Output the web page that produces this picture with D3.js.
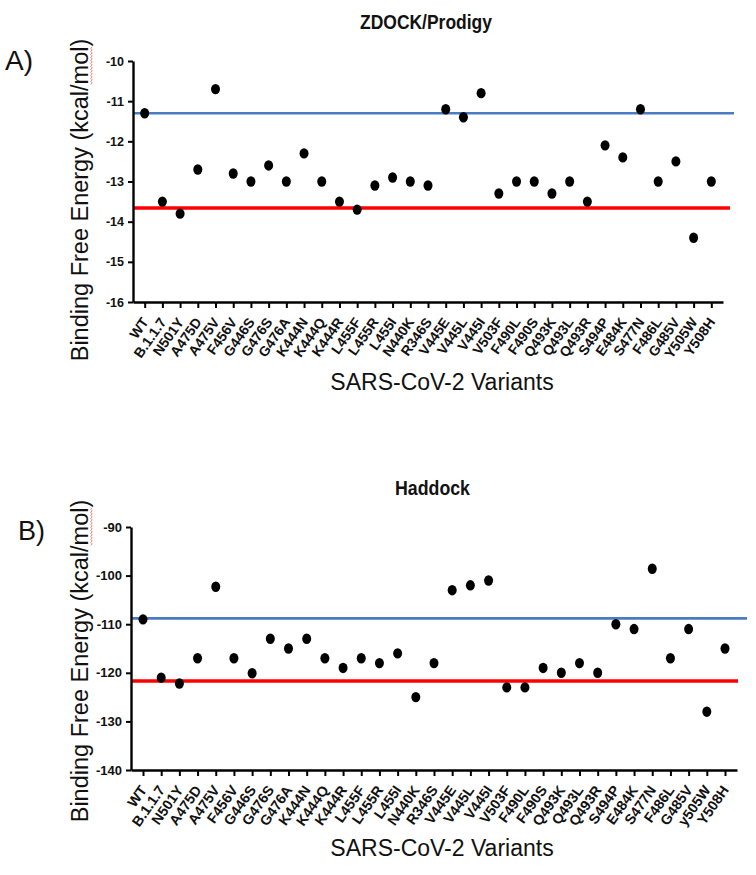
<!DOCTYPE html>
<html>
<head>
<meta charset="utf-8">
<script src="https://cdn.jsdelivr.net/npm/d3@7"></script>
<style>
  html, body { margin: 0; padding: 0; background: #fff; }
  svg { display: block; }
  text { font-family: "Liberation Sans", Arial, sans-serif; fill: #111; }
</style>
</head>
<body>
<svg id="chart" width="756" height="875"></svg>
<script>
// ---------------- DATA ----------------
const categoriesA = ["WT","B.1.1.7","N501Y","A475D","A475V","F456V","G446S","G476S","G476A","K444N","K444Q","K444R","L455F","L455R","L455I","N440K","R346S","V445E","V445L","V445I","V503F","F490L","F490S","Q493K","Q493L","Q493R","S494P","E484K","S477N","F486L","G485V","Y505W","Y508H"];
const categoriesB = ["WT","B.1.1.7","N501Y","A475D","A475V","F456V","G446S","G476S","G476A","K444N","K444Q","K444R","L455F","L455R","L455I","N440K","R346S","V445E","V445L","V445I","V503F","F490L","F490S","Q493K","Q493L","Q493R","S494P","E484K","S477N","F486L","G485V","y505W","Y508H"];

const zdockValues = [-11.3,-13.5,-13.8,-12.7,-10.7,-12.8,-13.0,-12.6,-13.0,-12.3,-13.0,-13.5,-13.7,-13.1,-12.9,-13.0,-13.1,-11.2,-11.4,-10.8,-13.3,-13.0,-13.0,-13.3,-13.0,-13.5,-12.1,-12.4,-11.2,-13.0,-12.5,-14.4,-13.0];
const haddockValues = [-109,-121,-122.2,-117,-102.3,-117,-120.1,-113,-115,-113,-117,-119,-117,-118,-116,-125,-118,-103,-102,-101,-123,-123,-119,-120,-118,-120,-110,-111,-98.6,-117,-111,-128,-115];

const yTicksA = [-16,-15,-14,-13,-12,-11,-10];
const yTicksB = [-140,-130,-120,-110,-100,-90];

const refLineA_blue = -11.3;
const refLineA_red = -13.66;
const refLineB_blue = -108.8;
const refLineB_red = -121.7;

const titleA = "ZDOCK/Prodigy";
const titleB = "Haddock";
const yAxisTitle = "Binding Free Energy (kcal/mol)";
const xAxisTitle = "SARS-CoV-2 Variants";

// ---------------- LAYOUT ----------------
const panels = [
  { cats: categoriesA, vals: zdockValues, ticks: yTicksA, blue: refLineA_blue, red: refLineA_red,
    title: titleA, tag: "A)",
    x0: 133, x1: 723, yTop: 61, yBot: 302,
    blueExt: 11, redExt: 7,
    titleX: 426, titleY: 29, titleLen: 132,
    tagX: 5, tagY: 70, tagSize: 28,
    yLabelCy: 200, xLabelY: 390, tickFs: 12.5, xTickFs: 14 },
  { cats: categoriesB, vals: haddockValues, ticks: yTicksB, blue: refLineB_blue, red: refLineB_red,
    title: titleB, tag: "B)",
    x0: 131, x1: 737, yTop: 527, yBot: 770,
    blueExt: 10, redExt: 1,
    titleX: 432.5, titleY: 495, titleLen: 75,
    tagX: 18, tagY: 540, tagSize: 27,
    yLabelCy: 661, xLabelY: 856, tickFs: 13, xTickFs: 14.3 }
];

const svg = d3.select("#chart");

panels.forEach(p => {
  const g = svg.append("g");
  const x = d3.scalePoint().domain(p.cats).range([p.x0, p.x1]).padding(0.66);
  const y = d3.scaleLinear().domain([d3.min(p.ticks), d3.max(p.ticks)]).range([p.yBot, p.yTop]);

  // reference lines
  g.append("line")
    .attr("x1", p.x0).attr("x2", p.x1 + p.blueExt)
    .attr("y1", y(p.blue)).attr("y2", y(p.blue))
    .attr("stroke", "#4a7cc4").attr("stroke-width", 2.6);
  g.append("line")
    .attr("x1", p.x0).attr("x2", p.x1 + p.redExt)
    .attr("y1", y(p.red)).attr("y2", y(p.red))
    .attr("stroke", "#ff0000").attr("stroke-width", 3.6);

  // y axis
  const ya = g.append("g").attr("transform", `translate(${p.x0},0)`)
    .call(d3.axisLeft(y).tickValues(p.ticks).tickSize(5).tickSizeOuter(0).tickPadding(4).tickFormat(d => String(d)));
  ya.select(".domain").attr("stroke", "#000").attr("stroke-width", 2.4);
  ya.selectAll(".tick line").attr("stroke", "#000").attr("stroke-width", 2);
  ya.selectAll(".tick text")
    .style("font-family", "'Liberation Sans', Arial, sans-serif")
    .style("font-weight", "bold").style("font-size", p.tickFs + "px").attr("fill", "#111");

  // x axis
  const xa = g.append("g").attr("transform", `translate(0,${p.yBot})`)
    .call(d3.axisBottom(x).tickSize(6).tickSizeOuter(0));
  xa.select(".domain").attr("stroke", "#000").attr("stroke-width", 2.4);
  xa.selectAll(".tick line").attr("stroke", "#000").attr("stroke-width", 2);
  xa.selectAll(".tick text")
    .attr("x", 0).attr("y", 0).attr("dy", 0)
    .attr("transform", "translate(4,20) rotate(-55)")
    .style("text-anchor", "end")
    .style("font-family", "'Liberation Sans', Arial, sans-serif")
    .style("font-weight", "bold").style("font-size", p.xTickFs + "px").attr("fill", "#111");

  // points
  g.selectAll("ellipse.pt").data(p.cats.map((c, i) => ({ c, v: p.vals[i] })))
    .join("ellipse").attr("class", "pt")
    .attr("cx", d => x(d.c)).attr("cy", d => y(d.v))
    .attr("rx", 4.5).attr("ry", 5.2).attr("fill", "#000");

  // title
  g.append("text").attr("x", p.titleX).attr("y", p.titleY)
    .attr("text-anchor", "middle")
    .attr("textLength", p.titleLen).attr("lengthAdjust", "spacingAndGlyphs")
    .style("font-weight", "bold").style("font-size", "21px").text(p.title);

  // panel tag
  g.append("text").attr("x", p.tagX).attr("y", p.tagY)
    .style("font-size", p.tagSize + "px").text(p.tag);

  // x axis title
  g.append("text").attr("x", 442).attr("y", p.xLabelY)
    .attr("text-anchor", "middle").style("font-size", "23px").text(xAxisTitle);

  // y axis title
  const bx = 88;
  const yl = g.append("text")
    .attr("transform", `translate(${bx},${p.yLabelCy}) rotate(-90)`)
    .attr("text-anchor", "middle").style("font-size", "23.5px").text(yAxisTitle);

  // spell-check squiggle under "mol"
  const node = yl.node();
  const idx = yAxisTitle.indexOf("mol");
  const total = node.getComputedTextLength();
  const start = node.getSubStringLength(0, idx);
  const len = node.getSubStringLength(idx, 3);
  const yStart = p.yLabelCy + total / 2 - start;
  const yEnd = yStart - len;
  const pts = [];
  let k = 0;
  for (let yy = yStart; yy >= yEnd; yy -= 1.5, k++) {
    pts.push([bx + 3 + (k % 2 ? 1.2 : -0.2), yy]);
  }
  g.append("path").attr("d", d3.line()(pts))
    .attr("fill", "none").attr("stroke", "#f06a6a").attr("stroke-width", 0.9);
});
</script>
</body>
</html>
